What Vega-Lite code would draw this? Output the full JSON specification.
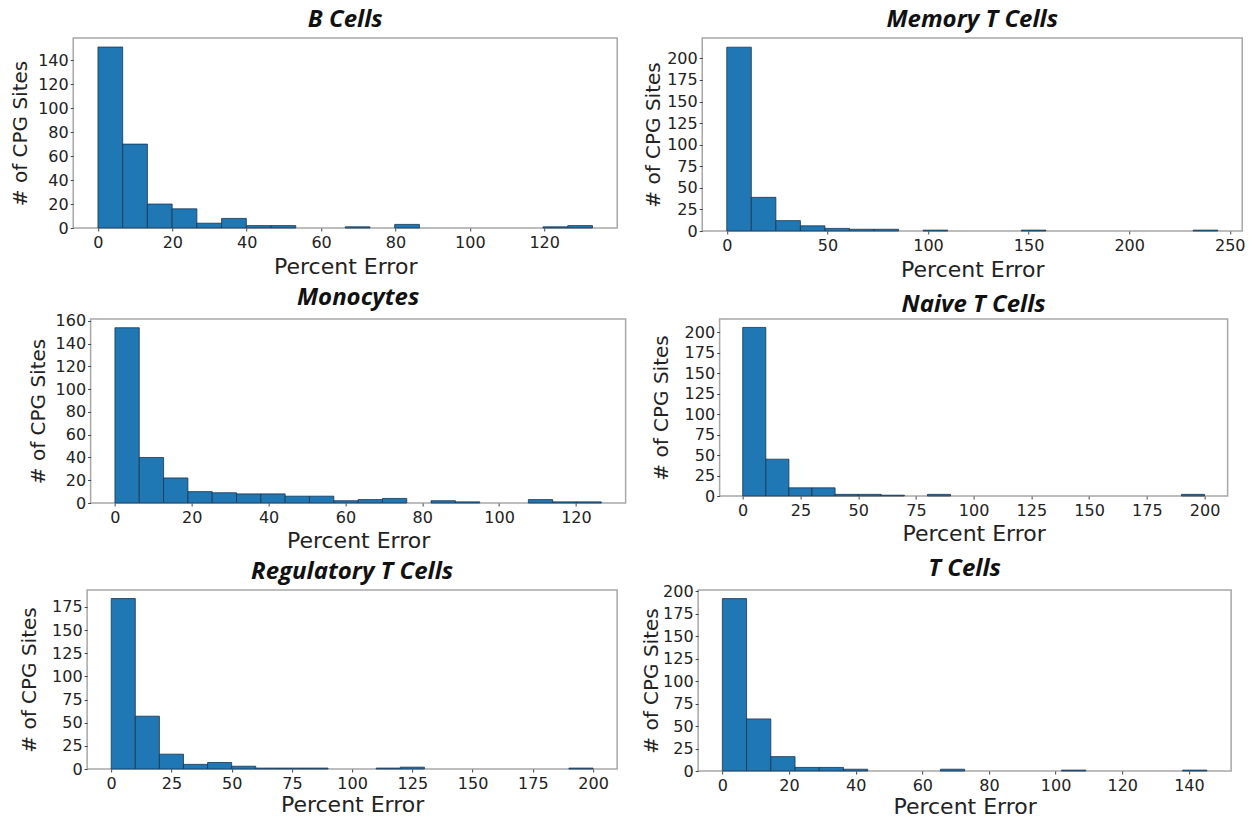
{
  "$schema": "https://vega.github.io/schema/vega-lite/v6.json",
  "padding": {"left": 9, "top": 7, "right": 1, "bottom": 0},
  "background": "white",
  "config": {
    "view": {"stroke": "#a8a8a8", "strokeWidth": 1.5},
    "axis": {"grid": false, "domain": false, "labelFont": "DejaVu Sans", "labelFontSize": 16, "labelColor": "#222", "tickColor": "#444", "tickSize": 3, "titleFont": "DejaVu Sans", "titleFontWeight": "normal", "titleColor": "#222"},
    "axisX": {"titleFontSize": 22, "titlePadding": 3, "labelPadding": 3},
    "axisY": {"titleFontSize": 20, "titlePadding": 8, "labelPadding": 2},
    "title": {"font": "Open Sans", "fontStyle": "italic", "fontWeight": "bold", "fontSize": 24, "color": "#111", "offset": 6},
    "bar": {"color": "#1f77b4", "stroke": "#1b3550", "strokeWidth": 1, "strokeOpacity": 0.8}
  },
  "center": true,
  "spacing": 4,
  "vconcat": [
    {
      "spacing": 24,
      "hconcat": [
        {
          "title": {"text": "B Cells", "offset": 6},
          "width": 544, "height": 190,
          "data": {"values": [
            {"start": 0, "end": 6.65, "count": 151},
            {"start": 6.65, "end": 13.3, "count": 70},
            {"start": 13.3, "end": 19.95, "count": 20},
            {"start": 19.95, "end": 26.6, "count": 16},
            {"start": 26.6, "end": 33.25, "count": 4},
            {"start": 33.25, "end": 39.9, "count": 8},
            {"start": 39.9, "end": 46.55, "count": 2},
            {"start": 46.55, "end": 53.2, "count": 2},
            {"start": 66.5, "end": 73.15, "count": 1},
            {"start": 79.8, "end": 86.45, "count": 3},
            {"start": 119.7, "end": 126.35, "count": 1},
            {"start": 126.35, "end": 133, "count": 2}
          ]},
          "mark": "bar",
          "encoding": {
            "x": {"field": "start", "type": "quantitative", "scale": {"domain": [-6.65, 139.65], "nice": false, "zero": false}, "axis": {"values": [0, 20, 40, 60, 80, 100, 120], "title": "Percent Error", "titlePadding": 6}},
            "x2": {"field": "end"},
            "y": {"field": "count", "type": "quantitative", "scale": {"domain": [0, 158.55], "nice": false}, "axis": {"values": [0, 20, 40, 60, 80, 100, 120, 140], "title": "# of CPG Sites", "titlePadding": 7}},
            "y2": {"datum": 0}
          }
        },
        {
          "title": {"text": "Memory T Cells", "offset": 6},
          "width": 540, "height": 193,
          "data": {"values": [
            {"start": 0, "end": 12.2, "count": 213},
            {"start": 12.2, "end": 24.4, "count": 39},
            {"start": 24.4, "end": 36.6, "count": 12},
            {"start": 36.6, "end": 48.8, "count": 6},
            {"start": 48.8, "end": 61, "count": 3},
            {"start": 61, "end": 73.2, "count": 2},
            {"start": 73.2, "end": 85.4, "count": 2},
            {"start": 97.6, "end": 109.8, "count": 1},
            {"start": 146.4, "end": 158.6, "count": 1},
            {"start": 231.8, "end": 244, "count": 1}
          ]},
          "mark": "bar",
          "encoding": {
            "x": {"field": "start", "type": "quantitative", "scale": {"domain": [-12.2, 256.2], "nice": false, "zero": false}, "axis": {"values": [0, 50, 100, 150, 200, 250], "title": "Percent Error", "titlePadding": 6}},
            "x2": {"field": "end"},
            "y": {"field": "count", "type": "quantitative", "scale": {"domain": [0, 223.65], "nice": false}, "axis": {"values": [0, 25, 50, 75, 100, 125, 150, 175, 200], "title": "# of CPG Sites", "titlePadding": 3}},
            "y2": {"datum": 0}
          }
        }
      ]
    },
    {
      "spacing": 23,
      "hconcat": [
        {
          "title": {"text": "Monocytes", "offset": 3},
          "width": 535, "height": 184,
          "data": {"values": [
            {"start": 0, "end": 6.33, "count": 154},
            {"start": 6.33, "end": 12.66, "count": 40},
            {"start": 12.66, "end": 18.99, "count": 22},
            {"start": 18.99, "end": 25.32, "count": 10},
            {"start": 25.32, "end": 31.65, "count": 9},
            {"start": 31.65, "end": 37.98, "count": 8},
            {"start": 37.98, "end": 44.31, "count": 8},
            {"start": 44.31, "end": 50.64, "count": 6},
            {"start": 50.64, "end": 56.97, "count": 6},
            {"start": 56.97, "end": 63.3, "count": 2},
            {"start": 63.3, "end": 69.63, "count": 3},
            {"start": 69.63, "end": 75.96, "count": 4},
            {"start": 82.29, "end": 88.62, "count": 2},
            {"start": 88.62, "end": 94.95, "count": 1},
            {"start": 107.61, "end": 113.94, "count": 3},
            {"start": 113.94, "end": 120.27, "count": 1},
            {"start": 120.27, "end": 126.6, "count": 1}
          ]},
          "mark": "bar",
          "encoding": {
            "x": {"field": "start", "type": "quantitative", "scale": {"domain": [-6.33, 132.93], "nice": false, "zero": false}, "axis": {"values": [0, 20, 40, 60, 80, 100, 120], "title": "Percent Error", "titlePadding": 5}},
            "x2": {"field": "end"},
            "y": {"field": "count", "type": "quantitative", "scale": {"domain": [0, 161.7], "nice": false}, "axis": {"values": [0, 20, 40, 60, 80, 100, 120, 140, 160], "title": "# of CPG Sites", "titlePadding": 7}},
            "y2": {"datum": 0}
          }
        },
        {
          "title": {"text": "Naive T Cells", "offset": 2},
          "width": 508, "height": 177,
          "data": {"values": [
            {"start": 0, "end": 10, "count": 206},
            {"start": 10, "end": 20, "count": 45},
            {"start": 20, "end": 30, "count": 10},
            {"start": 30, "end": 40, "count": 10},
            {"start": 40, "end": 50, "count": 2},
            {"start": 50, "end": 60, "count": 2},
            {"start": 60, "end": 70, "count": 1},
            {"start": 80, "end": 90, "count": 2},
            {"start": 190, "end": 200, "count": 2}
          ]},
          "mark": "bar",
          "encoding": {
            "x": {"field": "start", "type": "quantitative", "scale": {"domain": [-10, 210], "nice": false, "zero": false}, "axis": {"values": [0, 25, 50, 75, 100, 125, 150, 175, 200], "title": "Percent Error", "titlePadding": 5}},
            "x2": {"field": "end"},
            "y": {"field": "count", "type": "quantitative", "scale": {"domain": [0, 216.3], "nice": false}, "axis": {"values": [0, 25, 50, 75, 100, 125, 150, 175, 200], "title": "# of CPG Sites", "titlePadding": 13}},
            "y2": {"datum": 0}
          }
        }
      ]
    },
    {
      "spacing": 22,
      "hconcat": [
        {
          "title": {"text": "Regulatory T Cells", "offset": 6},
          "width": 530, "height": 179,
          "data": {"values": [
            {"start": 0, "end": 10, "count": 184},
            {"start": 10, "end": 20, "count": 57},
            {"start": 20, "end": 30, "count": 16},
            {"start": 30, "end": 40, "count": 5},
            {"start": 40, "end": 50, "count": 7},
            {"start": 50, "end": 60, "count": 3},
            {"start": 60, "end": 70, "count": 1},
            {"start": 70, "end": 80, "count": 1},
            {"start": 80, "end": 90, "count": 1},
            {"start": 110, "end": 120, "count": 1},
            {"start": 120, "end": 130, "count": 2},
            {"start": 190, "end": 200, "count": 1}
          ]},
          "mark": "bar",
          "encoding": {
            "x": {"field": "start", "type": "quantitative", "scale": {"domain": [-10, 210], "nice": false, "zero": false}, "axis": {"values": [0, 25, 50, 75, 100, 125, 150, 175, 200], "title": "Percent Error"}},
            "x2": {"field": "end"},
            "y": {"field": "count", "type": "quantitative", "scale": {"domain": [0, 193.2], "nice": false}, "axis": {"values": [0, 25, 50, 75, 100, 125, 150, 175], "title": "# of CPG Sites", "titlePadding": 12}},
            "y2": {"datum": 0}
          }
        },
        {
          "title": {"text": "T Cells", "offset": 2},
          "width": 533, "height": 181,
          "data": {"values": [
            {"start": 0, "end": 7.27, "count": 192},
            {"start": 7.27, "end": 14.54, "count": 58},
            {"start": 14.54, "end": 21.81, "count": 16},
            {"start": 21.81, "end": 29.08, "count": 4},
            {"start": 29.08, "end": 36.35, "count": 4},
            {"start": 36.35, "end": 43.62, "count": 2},
            {"start": 65.43, "end": 72.7, "count": 2},
            {"start": 101.78, "end": 109.05, "count": 1},
            {"start": 138.13, "end": 145.4, "count": 1}
          ]},
          "mark": "bar",
          "encoding": {
            "x": {"field": "start", "type": "quantitative", "scale": {"domain": [-7.27, 152.67], "nice": false, "zero": false}, "axis": {"values": [0, 20, 40, 60, 80, 100, 120, 140], "title": "Percent Error"}},
            "x2": {"field": "end"},
            "y": {"field": "count", "type": "quantitative", "scale": {"domain": [0, 201.6], "nice": false}, "axis": {"values": [0, 25, 50, 75, 100, 125, 150, 175, 200], "title": "# of CPG Sites", "titlePadding": 1}},
            "y2": {"datum": 0}
          }
        }
      ]
    }
  ]
}
